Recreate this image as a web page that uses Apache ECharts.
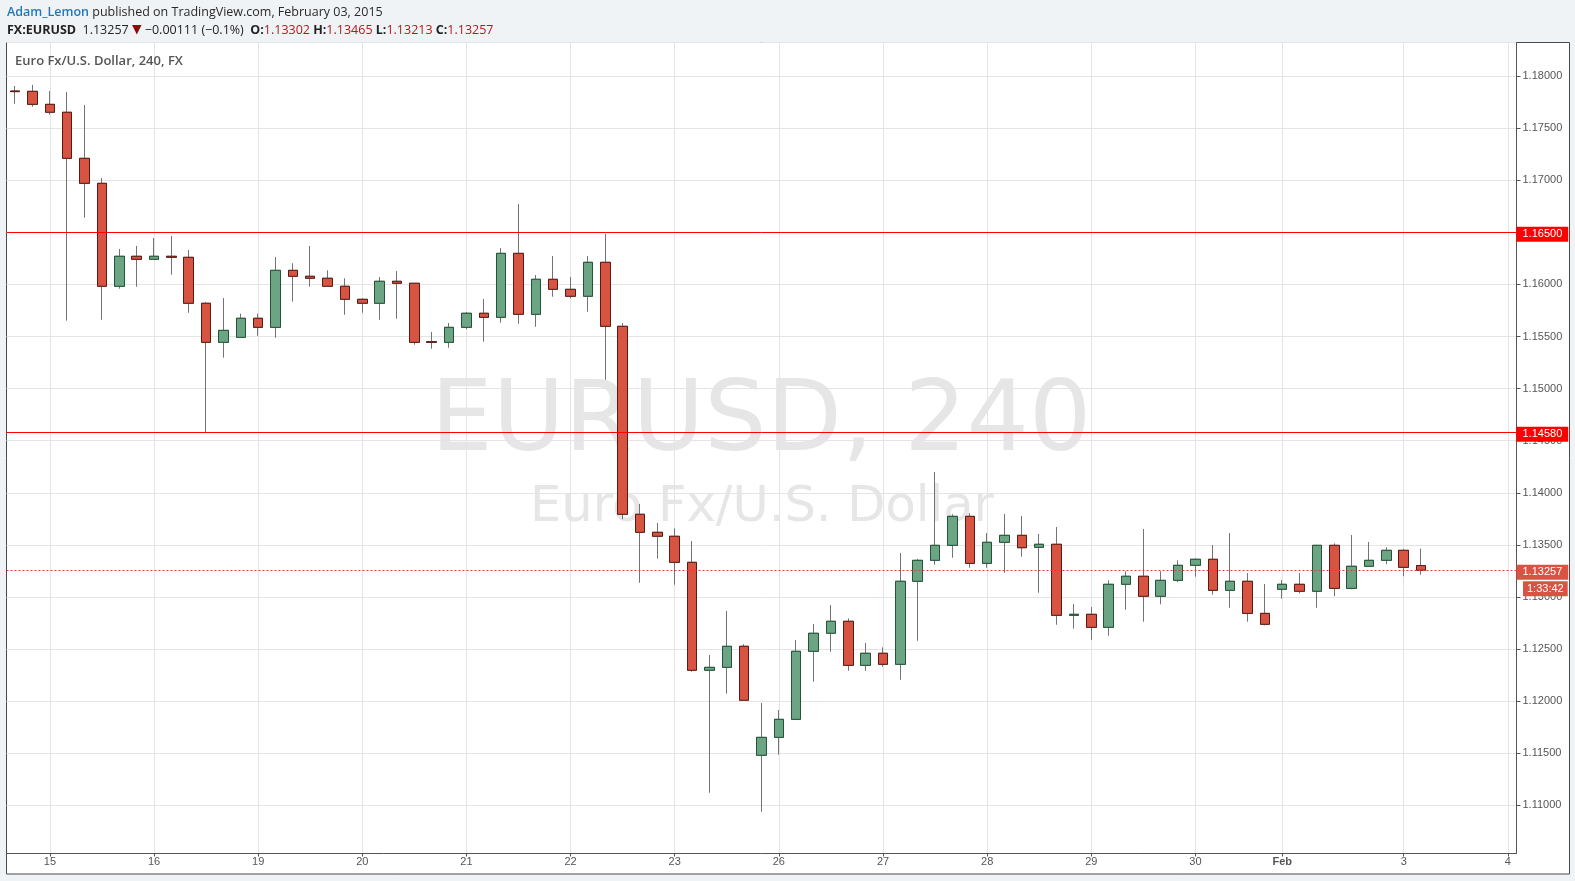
<!DOCTYPE html>
<html><head><meta charset="utf-8">
<script src="https://cdn.jsdelivr.net/npm/echarts@6/dist/echarts.min.js"></script>
<style>html,body{margin:0;padding:0;background:#f0f3f6;}#c{width:1575px;height:881px;}</style>
</head><body><div id="c"></div>
<script>
// ---- data (EURUSD, 240-minute bars) ----
const dayLabelIndex = [2, 8, 14, 20, 26, 32, 38, 44, 50, 56, 62, 68, 73, 80, 86];
const dayLabels = ['15', '16', '19', '20', '21', '22', '23', '26', '27', '28', '29', '30', 'Feb', '3', '4'];
const slotCount = 87;
const opens = [1.17856,1.17853,1.17728,1.17652,1.17210,1.16970,1.15982,1.16270,1.16241,1.16270,
  1.16260,1.15819,1.15444,1.15492,1.15675,1.15588,1.16135,1.16078,1.16059,1.15982,
  1.15857,1.15819,1.16030,1.16011,1.15450,1.15444,1.15588,1.15723,1.15684,1.16298,
  1.15713,1.16049,1.15953,1.15886,1.16212,1.15598,1.13794,1.13621,1.13583,1.13333,
  1.12297,1.12325,1.12527,1.11481,1.11653,1.11826,1.12479,1.12652,1.12767,1.12344,
  1.12460,1.12354,1.13151,1.13352,1.13496,1.13774,1.13323,1.13525,1.13592,1.13477,
  1.13506,1.12824,1.12834,1.12709,1.13122,1.13199,1.13007,1.13160,1.13304,1.13362,
  1.13064,1.13151,1.12843,1.13074,1.13122,1.13055,1.13496,1.13083,1.13295,1.13352,
  1.13448,1.13302];
const closes = [1.17850,1.17728,1.17652,1.17210,1.16970,1.15982,1.16270,1.16241,1.16270,1.16260,
  1.15819,1.15444,1.15559,1.15675,1.15588,1.16135,1.16078,1.16059,1.15982,1.15857,
  1.15819,1.16030,1.16011,1.15444,1.15444,1.15588,1.15723,1.15684,1.16298,1.15713,
  1.16049,1.15953,1.15886,1.16212,1.15598,1.13794,1.13621,1.13583,1.13333,1.12297,
  1.12325,1.12527,1.12009,1.11653,1.11826,1.12479,1.12652,1.12767,1.12344,1.12460,
  1.12354,1.13151,1.13352,1.13496,1.13774,1.13323,1.13525,1.13592,1.13473,1.13506,
  1.12824,1.12834,1.12709,1.13122,1.13199,1.13007,1.13160,1.13304,1.13362,1.13064,
  1.13151,1.12843,1.12738,1.13122,1.13055,1.13496,1.13083,1.13295,1.13352,1.13448,
  1.13285,1.13257];
const lows = [1.17734,1.17705,1.17629,1.15652,1.16640,1.15661,1.15959,1.15978,1.16241,1.16093,
  1.15728,1.14580,1.15297,1.15492,1.15508,1.15488,1.15834,1.15978,1.15982,1.15709,
  1.15728,1.15661,1.15671,1.15421,1.15383,1.15392,1.15569,1.15450,1.15632,1.15623,
  1.15594,1.15882,1.15867,1.15738,1.15085,1.13746,1.13137,1.13368,1.13118,1.12283,
  1.11122,1.12072,1.12009,1.10940,1.11487,1.11826,1.12187,1.12475,1.12292,1.12292,
  1.12331,1.12206,1.12580,1.13310,1.13377,1.13281,1.13281,1.13233,1.13387,1.13041,
  1.12734,1.12696,1.12590,1.12629,1.12878,1.12763,1.12930,1.13141,1.13195,1.13022,
  1.12897,1.12763,1.12728,1.12984,1.13035,1.12897,1.13007,1.13074,1.13295,1.13314,
  1.13199,1.13213];
const highs = [1.17904,1.17914,1.17856,1.17846,1.17722,1.17021,1.16340,1.16369,1.16445,1.16464,
  1.16330,1.15828,1.15869,1.15719,1.15719,1.16263,1.16203,1.16369,1.16135,1.16059,
  1.15867,1.16071,1.16129,1.16011,1.15543,1.15630,1.15735,1.15860,1.16349,1.16772,
  1.16090,1.16273,1.16071,1.16273,1.16484,1.15630,1.13893,1.13710,1.13659,1.13537,
  1.12443,1.12866,1.12546,1.11983,1.11916,1.12587,1.12741,1.12923,1.12795,1.12559,
  1.12517,1.13422,1.13365,1.14200,1.13794,1.13803,1.13614,1.13797,1.13777,1.13605,
  1.13672,1.12933,1.12904,1.13160,1.13247,1.13653,1.13247,1.13352,1.13370,1.13499,
  1.13614,1.13230,1.13125,1.13163,1.13230,1.13500,1.13515,1.13595,1.13528,1.13477,
  1.13458,1.13465];
const levelLines = [1.165, 1.1458];
const lastPrice = 1.13257;
const countdown = '1:33:42';
const yMin = 1.105384, yMax = 1.183215;

// ---- build ----
const labelMap = {};
dayLabelIndex.forEach((idx, k) => { labelMap[idx] = dayLabels[k]; });
const categories = [];
for (let i = 0; i < slotCount; i++) categories.push('s' + i);
const isDay = (i) => labelMap[i] !== undefined;

const fullCandles = opens.map((o, i) => [o, closes[i], lows[i], highs[i]]);
const bodies = opens.map((o, i) => [o, closes[i], Math.min(o, closes[i]), Math.max(o, closes[i])]);

const AX = '#555';
const GRID = '#e4e4e4';
const FONT = '"Liberation Sans", Arial, sans-serif';
const UI = '"Open Sans", "Liberation Sans", sans-serif';

function lvl(v, bg, lineColor, type) {
  return {
    yAxis: v,
    lineStyle: { color: lineColor, width: 1, type: type },
    label: {
      show: true, position: 'end', distance: 0, offset: [0, 2],
      formatter: () => v.toFixed(5),
      color: '#fff', backgroundColor: bg, padding: [2, 6, 2, 6],
      fontSize: 11, lineHeight: 11, fontFamily: FONT
    }
  };
}

const chart = echarts.init(document.getElementById('c'), null, { renderer: 'canvas' });
const option = {
  animation: false,
  backgroundColor: '#f0f3f6',
  grid: { left: 6.5, right: 58.5, top: 42.5, bottom: 27.5, containLabel: false, outerBoundsMode: 'none' },
  xAxis: {
    type: 'category', data: categories, boundaryGap: true,
    axisLine: { show: true, lineStyle: { color: AX, width: 1 } },
    axisTick: { show: true, alignWithLabel: true, length: 3, interval: (i) => isDay(i), lineStyle: { color: AX } },
    axisLabel: {
      show: true, interval: (i) => isDay(i), margin: 3,
      formatter: (v, i) => labelMap[i] === 'Feb' ? '{b|Feb}' : (labelMap[i] || ''),
      color: AX, fontSize: 11, fontFamily: FONT,
      rich: { b: { fontWeight: 'bold', color: AX, fontSize: 11, fontFamily: FONT } }
    },
    splitLine: { show: true, alignWithLabel: true, interval: (i) => isDay(i), lineStyle: { color: GRID, width: 1 } }
  },
  yAxis: {
    type: 'value', position: 'right', min: yMin, max: yMax, splitNumber: 15, scale: true,
    axisLine: { show: true, lineStyle: { color: AX, width: 1 } },
    axisTick: { show: true, length: 4, lineStyle: { color: AX } },
    axisLabel: {
      show: true, margin: 6, showMinLabel: false, showMaxLabel: false,
      formatter: (v) => v.toFixed(5), color: AX, fontSize: 11, fontFamily: FONT
    },
    splitLine: { show: true, lineStyle: { color: GRID, width: 1 } }
  },
  graphic: { elements: [
    { id: 'panel', type: 'rect', z: -20, silent: true,
      shape: { x: 6.5, y: 42.5, width: 1563, height: 831.5 },
      style: { fill: '#ffffff', stroke: '#4a4a4a', lineWidth: 1 } },
    { id: 'wm1', type: 'text', z: -10, silent: true, x: 761, y: 425,
      style: { text: 'EURUSD, 240', font: '98px "DejaVu Sans"', fill: '#e6e6e6', align: 'center', verticalAlign: 'middle' } },
    { id: 'wm2', type: 'text', z: -10, silent: true, x: 762, y: 508,
      style: { text: 'Euro Fx/U.S. Dollar', font: '49.5px "DejaVu Sans"', fill: '#e6e6e6', align: 'center', verticalAlign: 'middle' } },
    { id: 'title', type: 'text', z: 10, silent: true, x: 15, y: 61,
      style: { text: 'Euro Fx/U.S. Dollar, 240, FX', font: '600 13px ' + UI, fill: '#555', verticalAlign: 'middle' } },
    { id: 'head1', type: 'text', z: 10, silent: true, x: 7, y: 12,
      style: {
        text: '{u|Adam_Lemon}{n| published on TradingView.com, February 03, 2015}',
        font: '12.5px ' + UI, fill: '#333', verticalAlign: 'middle',
        rich: {
          u: { fill: '#1f78b8', font: '600 12.5px ' + UI },
          n: { fill: '#2a2a2a', font: '12.5px ' + UI }
        }
      } },
    { id: 'head2', type: 'text', z: 10, silent: true, x: 7, y: 30,
      style: {
        text: '{b|FX:EURUSD}{n|  1.13257 }{t|▼}{n| \u22120.00111 (\u22120.1%)  }{b|O:}{r|1.13302} {b|H:}{r|1.13465} {b|L:}{r|1.13213} {b|C:}{r|1.13257}',
        font: '12.5px ' + UI, fill: '#222', verticalAlign: 'middle',
        rich: {
          b: { fill: '#222', font: 'bold 12.5px ' + UI },
          n: { fill: '#222', font: '12.5px ' + UI },
          t: { fill: '#8b0b0b', font: '12.5px "DejaVu Sans"' },
          r: { fill: '#b5171b', font: '12.5px ' + UI }
        }
      } }
  ] },
  series: [
    {
      name: 'wicks', type: 'candlestick', data: fullCandles, barWidth: 10, silent: true, z: 2,
      itemStyle: { color: '#737375', color0: '#737375', borderColor: '#737375', borderColor0: '#737375', borderColorDoji: '#737375', borderWidth: 1 }
    },
    {
      name: 'EURUSD', type: 'candlestick', data: bodies, barWidth: 10, silent: true, z: 3,
      itemStyle: { color: '#6ba583', color0: '#d75442', borderColor: '#225437', borderColor0: '#5b1a13', borderColorDoji: '#5b1a13', borderWidth: 1 },
      markLine: {
        symbol: ['none', 'none'], silent: true, animation: false, precision: 5,
        data: [
          lvl(levelLines[0], '#ff0000', '#ff0000', 'solid'),
          lvl(levelLines[1], '#ff0000', '#ff0000', 'solid'),
          lvl(lastPrice, '#d75442', '#e0402c', [2, 2])
        ]
      }
    }
  ]
};
chart.setOption(option);
const py = chart.convertToPixel({ yAxisIndex: 0 }, lastPrice);
chart.setOption({ graphic: { elements: [
  { id: 'countdown', type: 'text', z: 20, silent: true, x: 1523, y: py + 18.5,
    style: { text: countdown, font: '11px ' + FONT, fill: '#fff', backgroundColor: '#d75442',
      padding: [2, 4, 2, 4], verticalAlign: 'middle' } }
] } });
</script>
</body></html>
